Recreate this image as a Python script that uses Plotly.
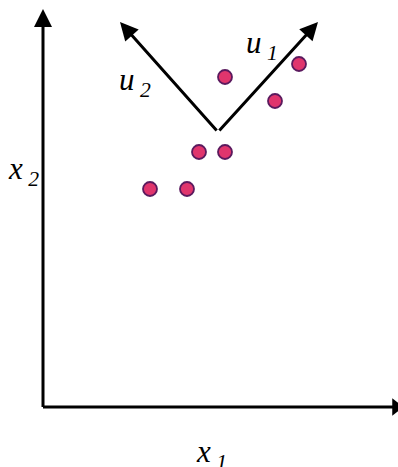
import plotly.graph_objects as go

# Data points (x1, x2) in chart units (origin at axis corner)
x1_vals = [107, 144, 156, 182, 182, 232, 256]
x2_vals = [218, 218, 255, 255, 330, 306, 343]

# Principal direction vectors: origin and tips
vec_origin = (175, 275)
u1_tip = (275, 385)
u2_tip = (77, 385)

# Axis extents (the x axis arrowhead is cut by the right edge)
x_axis_end = 353
y_axis_end = 398

FONT = "Liberation Serif"

fig = go.Figure()

# x axis: line plus arrowhead marker
fig.add_trace(go.Scatter(
    x=[0, x_axis_end - 3], y=[0, 0], mode="lines",
    line=dict(color="black", width=3), hoverinfo="skip", showlegend=False,
    cliponaxis=False,
))
fig.add_trace(go.Scatter(
    x=[x_axis_end], y=[0], mode="markers",
    marker=dict(symbol="triangle-right", size=15, color="black",
                line=dict(width=0)),
    hoverinfo="skip", showlegend=False, cliponaxis=False,
))

fig.add_trace(go.Scatter(
    x=x1_vals, y=x2_vals, mode="markers",
    marker=dict(size=14, color="#e0356d",
                line=dict(color="#5b1a5e", width=1.8)),
    hoverinfo="skip", showlegend=False,
))

def arrow(x0, y0, x1, y1):
    fig.add_annotation(
        x=x1, y=y1, ax=x0, ay=y0, xref="x", yref="y", axref="x", ayref="y",
        showarrow=True, arrowhead=2, arrowsize=1.2, arrowwidth=3,
        arrowcolor="black", text="",
    )

arrow(0, -1.5, 0, y_axis_end)
arrow(vec_origin[0], vec_origin[1], u1_tip[0], u1_tip[1])
arrow(vec_origin[0], vec_origin[1], u2_tip[0], u2_tip[1])

def label(x, y, main, sub):
    fig.add_annotation(
        x=x, y=y, xref="x", yref="y", showarrow=False,
        text=f"<i>{main}</i><sub><i> {sub}</i></sub>",
        font=dict(family=FONT, size=31, color="black"),
        xanchor="center", yanchor="middle",
    )

label(219, 362, "u", "1")
label(92, 325, "u", "2")
label(-20, 236, "x", "2")
label(168, -47, "x", "1")

fig.update_layout(
    width=398, height=467,
    margin=dict(l=0, r=0, t=0, b=0),
    font=dict(family=FONT),
    paper_bgcolor="white", plot_bgcolor="white",
    hovermode=False,
    xaxis=dict(range=[-43, 355], visible=False, fixedrange=True),
    yaxis=dict(range=[-60, 407], visible=False, fixedrange=True),
)

fig.write_html(
    "out.html",
    config={"displayModeBar": False, "staticPlot": True},
    post_script="document.body.style.margin='0';document.body.style.overflow='hidden';",
)
